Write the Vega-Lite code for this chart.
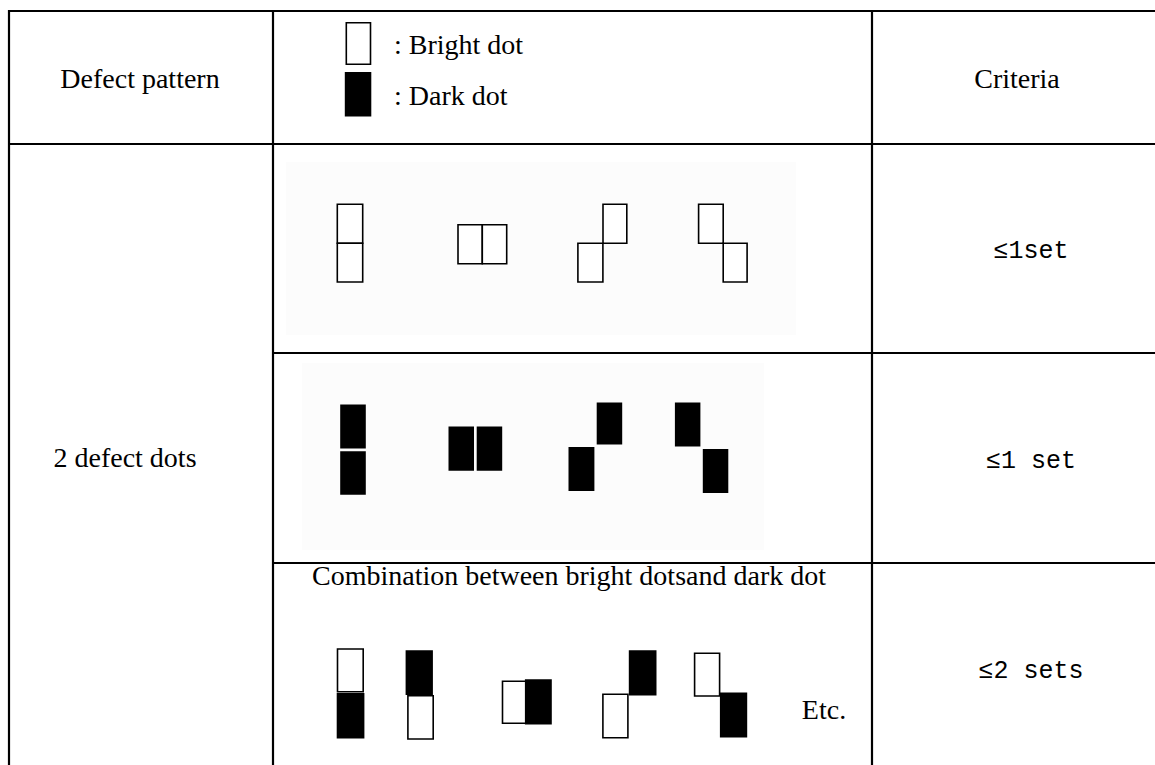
{
  "$schema": "https://vega.github.io/schema/vega-lite/v6.json",
  "width": 1155,
  "height": 765,
  "autosize": {"type": "fit", "contains": "padding"},
  "padding": 0,
  "background": "white",
  "config": {"view": {"stroke": null}},
  "datasets": {
    "grid": [
      {"x": 9, "x2": 1160, "y": 11, "y2": 11},
      {"x": 9, "x2": 1160, "y": 144, "y2": 144},
      {"x": 273, "x2": 1160, "y": 353, "y2": 353},
      {"x": 273, "x2": 1160, "y": 563, "y2": 563},
      {"x": 9, "x2": 9, "y": 10, "y2": 770},
      {"x": 273, "x2": 273, "y": 10, "y2": 770},
      {"x": 872, "x2": 872, "y": 10, "y2": 770}
    ],
    "panels": [
      {"x": 286, "x2": 796, "y": 162, "y2": 335},
      {"x": 302, "x2": 764, "y": 363, "y2": 550}
    ],
    "dots": [
      {"x": 346.3, "x2": 370.5, "y": 22.7, "y2": 64.3, "kind": "bright"},
      {"x": 337.3, "x2": 362.7, "y": 204.3, "y2": 243.3, "kind": "bright"},
      {"x": 337.3, "x2": 362.7, "y": 243.3, "y2": 282, "kind": "bright"},
      {"x": 458, "x2": 482.3, "y": 224.7, "y2": 263.7, "kind": "bright"},
      {"x": 482.3, "x2": 506.7, "y": 224.7, "y2": 263.7, "kind": "bright"},
      {"x": 603, "x2": 626.8, "y": 204.3, "y2": 243.3, "kind": "bright"},
      {"x": 577.9, "x2": 602.9, "y": 243.3, "y2": 282, "kind": "bright"},
      {"x": 698.6, "x2": 723.2, "y": 204.3, "y2": 243.3, "kind": "bright"},
      {"x": 723.2, "x2": 747.1, "y": 243.3, "y2": 282, "kind": "bright"},
      {"x": 337.5, "x2": 363.2, "y": 649, "y2": 691.7, "kind": "bright"},
      {"x": 407.9, "x2": 433.2, "y": 695.7, "y2": 739, "kind": "bright"},
      {"x": 502.5, "x2": 527.5, "y": 681.3, "y2": 723.3, "kind": "bright"},
      {"x": 602.9, "x2": 627.9, "y": 694.3, "y2": 737.7, "kind": "bright"},
      {"x": 694.6, "x2": 719.6, "y": 653.3, "y2": 696, "kind": "bright"},
      {"x": 345.6, "x2": 370.5, "y": 72.7, "y2": 115.7, "kind": "dark"},
      {"x": 341, "x2": 365, "y": 405.3, "y2": 447.7, "kind": "dark"},
      {"x": 341, "x2": 365, "y": 452, "y2": 494, "kind": "dark"},
      {"x": 449.3, "x2": 473.2, "y": 427.3, "y2": 470, "kind": "dark"},
      {"x": 477.5, "x2": 501.4, "y": 427.3, "y2": 470, "kind": "dark"},
      {"x": 597.5, "x2": 621.4, "y": 403.3, "y2": 443.7, "kind": "dark"},
      {"x": 569.3, "x2": 593.6, "y": 447.7, "y2": 490.3, "kind": "dark"},
      {"x": 675.7, "x2": 699.6, "y": 403.3, "y2": 445.7, "kind": "dark"},
      {"x": 703.6, "x2": 727.5, "y": 449.7, "y2": 492.3, "kind": "dark"},
      {"x": 337.5, "x2": 363.6, "y": 693.7, "y2": 737.7, "kind": "dark"},
      {"x": 406.4, "x2": 432.1, "y": 651, "y2": 694.3, "kind": "dark"},
      {"x": 525.7, "x2": 551, "y": 680, "y2": 723.7, "kind": "dark"},
      {"x": 629.6, "x2": 655.7, "y": 651, "y2": 694.7, "kind": "dark"},
      {"x": 720.7, "x2": 746.4, "y": 693.3, "y2": 736.7, "kind": "dark"}
    ],
    "labels": [
      {"label": "Defect pattern", "x": 140, "y": 88, "role": "heading"},
      {"label": "Criteria", "x": 1017, "y": 88, "role": "heading"},
      {"label": "2 defect dots", "x": 125, "y": 467, "role": "heading"},
      {"label": "Combination between bright dotsand dark dot", "x": 569, "y": 585, "role": "heading"},
      {"label": "Etc.", "x": 824, "y": 719, "role": "heading"},
      {"label": ": Bright dot", "x": 394, "y": 53.5, "role": "legend"},
      {"label": ": Dark dot", "x": 394, "y": 104.5, "role": "legend"},
      {"label": "≤1set", "x": 1031, "y": 257.5, "role": "criteria"},
      {"label": "≤1 set", "x": 1031, "y": 468, "role": "criteria"},
      {"label": "≤2 sets", "x": 1031, "y": 677.5, "role": "criteria"}
    ]
  },
  "encoding": {
    "x": {"field": "x", "type": "quantitative", "scale": {"domain": [0, 1155], "nice": false, "zero": false}, "axis": null},
    "y": {"field": "y", "type": "quantitative", "scale": {"domain": [0, 765], "nice": false, "zero": false, "reverse": true}, "axis": null}
  },
  "layer": [
    {
      "data": {"name": "panels"},
      "mark": {"type": "rect", "fill": "#fcfcfc", "stroke": null, "clip": true},
      "encoding": {"x2": {"field": "x2"}, "y2": {"field": "y2"}}
    },
    {
      "data": {"name": "grid"},
      "mark": {"type": "rule", "color": "black", "strokeWidth": 2.2, "clip": true},
      "encoding": {"x2": {"field": "x2"}, "y2": {"field": "y2"}}
    },
    {
      "data": {"name": "dots"},
      "mark": {"type": "rect", "stroke": "black", "strokeWidth": 1.6, "clip": true},
      "encoding": {
        "x2": {"field": "x2"},
        "y2": {"field": "y2"},
        "fill": {"field": "kind", "type": "nominal", "scale": {"domain": ["bright", "dark"], "range": ["white", "black"]}, "legend": null}
      }
    },
    {
      "data": {"name": "labels"},
      "transform": [{"filter": "datum.role === 'heading'"}],
      "mark": {"type": "text", "font": "Liberation Serif", "fontSize": 28, "align": "center", "baseline": "alphabetic", "color": "black"},
      "encoding": {"text": {"field": "label"}}
    },
    {
      "data": {"name": "labels"},
      "transform": [{"filter": "datum.role === 'legend'"}],
      "mark": {"type": "text", "font": "Liberation Serif", "fontSize": 28, "align": "left", "baseline": "alphabetic", "color": "black"},
      "encoding": {"text": {"field": "label"}}
    },
    {
      "data": {"name": "labels"},
      "transform": [{"filter": "datum.role === 'criteria'"}],
      "mark": {"type": "text", "font": "Liberation Mono", "fontSize": 25, "align": "center", "baseline": "alphabetic", "color": "black"},
      "encoding": {"text": {"field": "label"}}
    }
  ]
}
